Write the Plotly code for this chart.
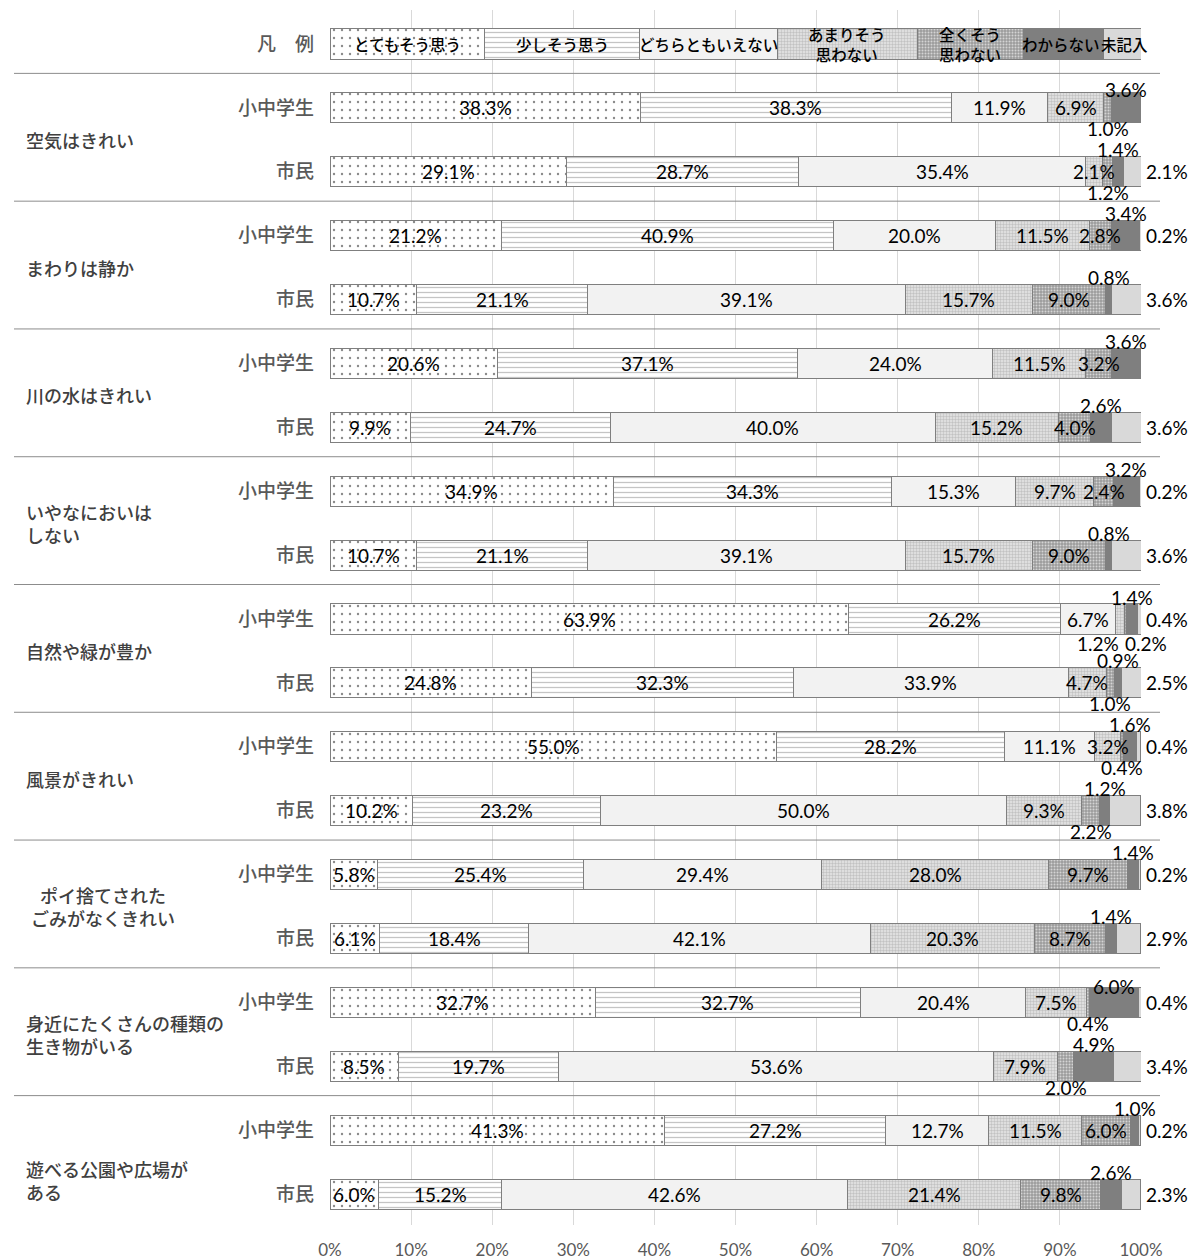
import plotly.graph_objects as go

# ---------------- data ----------------
categories = ["とてもそう思う", "少しそう思う", "どちらともいえない", "あまりそう思わない",
              "全くそう思わない", "わからない", "未記入"]
legend_names = ["とてもそう思う", "少しそう思う", "どちらともいえない", "あまりそう<br>思わない",
                "全くそう<br>思わない", "わからない", "未記入"]
legend_widths = [19.1, 19.1, 17.0, 17.2, 13.1, 9.9, 4.6]

items = ["空気はきれい", "まわりは静か", "川の水はきれい", "いやなにおいは<br>しない",
         "自然や緑が豊か", "風景がきれい", "ポイ捨てされた<br>ごみがなくきれい",
         "身近にたくさんの種類の<br>生き物がいる", "遊べる公園や広場が<br>ある"]
groups = ["小中学生", "市民"]
legend_label = "凡　例"
x_ticks = [0, 10, 20, 30, 40, 50, 60, 70, 80, 90, 100]

# rows: item1 小中学生, item1 市民, item2 小中学生, ...
totemo    = [38.3, 29.1, 21.2, 10.7, 20.6, 9.9, 34.9, 10.7, 63.9, 24.8, 55.0, 10.2, 5.8, 6.1, 32.7, 8.5, 41.3, 6.0]
sukoshi   = [38.3, 28.7, 40.9, 21.1, 37.1, 24.7, 34.3, 21.1, 26.2, 32.3, 28.2, 23.2, 25.4, 18.4, 32.7, 19.7, 27.2, 15.2]
dochira   = [11.9, 35.4, 20.0, 39.1, 24.0, 40.0, 15.3, 39.1, 6.7, 33.9, 11.1, 50.0, 29.4, 42.1, 20.4, 53.6, 12.7, 42.6]
amari     = [6.9, 2.1, 11.5, 15.7, 11.5, 15.2, 9.7, 15.7, 1.2, 4.7, 3.2, 9.3, 28.0, 20.3, 7.5, 7.9, 11.5, 21.4]
mattaku   = [1.0, 1.2, 2.8, 9.0, 3.2, 4.0, 2.4, 9.0, 0.2, 1.0, 0.4, 2.2, 9.7, 8.7, 0.4, 2.0, 6.0, 9.8]
wakaranai = [3.6, 1.4, 3.4, 0.8, 3.6, 2.6, 3.2, 0.8, 1.4, 0.9, 1.6, 1.2, 1.4, 1.4, 6.0, 4.9, 1.0, 2.6]
mikinyu   = [0.0, 2.1, 0.2, 3.6, 0.0, 3.6, 0.2, 3.6, 0.4, 2.5, 0.4, 3.8, 0.2, 2.9, 0.4, 3.4, 0.2, 2.3]

series = [totemo, sukoshi, dochira, amari, mattaku, wakaranai, mikinyu]

# ---------------- styles ----------------
styles = [
    dict(color="#ffffff", pattern=dict(shape=".", fgcolor="#8a8a8a", bgcolor="#ffffff", size=8, solidity=0.07, fillmode="replace")),
    dict(color="#ffffff", pattern=dict(shape="-", fgcolor="#c4c4c4", bgcolor="#ffffff", size=5, solidity=0.25, fillmode="replace")),
    dict(color="#f2f2f2"),
    dict(color="#dcdcdc", pattern=dict(shape=".", fgcolor="#c2c2c2", bgcolor="#e8e8e8", size=3, solidity=0.5, fillmode="replace")),
    dict(color="#a6a6a6", pattern=dict(shape=".", fgcolor="#d4d4d4", bgcolor="#9c9c9c", size=3, solidity=0.35, fillmode="replace")),
    dict(color="#7f7f7f"),
    dict(color="#d9d9d9"),
]

# label placement per row (c=center, a=above, b=below, r=right of bar, -=none)
placement = ["ccccba-", "ccccbar", "cccccar", "cccccar", "cccccar", "cccccar",
             "cccccar", "cccccar", "cccbbar", "ccccbar", "ccccbar", "ccccbar",
             "cccccar", "cccccar", "ccccbar", "ccccbar", "cccccar", "cccccar"]
nudges = {(0, 5): (0, -4), (8, 3): (-22, -3), (8, 4): (20, -3), (14, 5): (0, -6)}
legend_nudges = {5: -3, 6: 2}

NUM_FONT = "Lato, 'Noto Sans CJK JP', sans-serif"
JP_FONT = "'Noto Sans CJK JP', sans-serif"
BAR_W = 0.47

n_rows = len(totemo)
row_y = [i + 1 for i in range(n_rows)]

fig = go.Figure()
for c, name in enumerate(categories):
    st = styles[c]
    marker = dict(color=st["color"], line=dict(color="#7f7f7f", width=1))
    if "pattern" in st:
        marker["pattern"] = st["pattern"]
    fig.add_trace(go.Bar(
        x=[legend_widths[c]] + series[c],
        y=[0] + row_y,
        orientation="h",
        width=BAR_W,
        name=name,
        marker=marker,
        hoverinfo="skip",
        showlegend=False,
    ))

annotations = []
# legend row texts
cum = 0.0
for c, nm in enumerate(legend_names):
    w = legend_widths[c]
    annotations.append(dict(x=cum + w / 2, y=0, xref="x", yref="y", text=nm, showarrow=False,
                            font=dict(family=JP_FONT, size=15.5, color="#000000", weight=500),
                            xanchor="center", yanchor="middle", xshift=legend_nudges.get(c, 0)))
    cum += w

# value labels
for r in range(n_rows):
    cum = 0.0
    for c in range(len(categories)):
        v = series[c][r]
        p = placement[r][c]
        mid = cum + v / 2
        cum += v
        if v <= 0 or p == "-":
            continue
        dx, dy = nudges.get((r, c), (0, 0))
        a = dict(xref="x", yref="y", y=row_y[r], text=f"{v:.1f}%", showarrow=False,
                 font=dict(family=NUM_FONT, size=19, color="#000000"), yanchor="middle")
        if p == "c":
            a.update(x=mid, xanchor="center", yshift=0)
        elif p == "a":
            a.update(x=mid, xanchor="center", yshift=22)
        elif p == "b":
            a.update(x=mid, xanchor="center", yshift=-21)
        elif p == "r":
            a.update(x=100, xanchor="left", xshift=3)
        a["xshift"] = a.get("xshift", 0) + dx
        a["yshift"] = a.get("yshift", 0) + dy
        annotations.append(a)

# item labels on the left
for k, it in enumerate(items):
    ann = dict(xref="paper", yref="y", x=(24 - 330) / 811, y=2 * k + 1.5, text=it, showarrow=False,
               font=dict(family=JP_FONT, size=18, color="#404040", weight=500),
               xanchor="left", yanchor="middle", align="left")
    if k == 6:
        ann.update(align="center", x=(29 - 330) / 811)
    if k == 8:
        ann.update(yshift=-18)
    annotations.append(ann)

# separator lines
shapes = []
for k in range(len(items)):
    shapes.append(dict(type="line", xref="paper", yref="y", x0=(14 - 330) / 811, x1=(1160 - 330) / 811,
                       y0=2 * k + 0.46, y1=2 * k + 0.46, line=dict(color="#8c8c8c", width=1)))

fig.update_layout(
    width=1190, height=1260,
    margin=dict(l=330, r=49, t=10, b=35),
    barmode="stack",
    plot_bgcolor="#ffffff", paper_bgcolor="#ffffff",
    annotations=annotations,
    shapes=shapes,
    xaxis=dict(range=[0, 100], tickvals=x_ticks, ticktext=[f"{t}%" for t in x_ticks],
               showgrid=True, gridcolor="#d9d9d9", gridwidth=1, zeroline=False, showline=False,
               ticks="", tickfont=dict(family=NUM_FONT, size=17, color="#595959"),
               ticklabelstandoff=13, automargin=False, fixedrange=True),
    yaxis=dict(range=[18.485, -0.532], tickvals=[0] + row_y, ticktext=[legend_label] + groups * len(items),
               showgrid=False, zeroline=False, showline=False, ticks="",
               tickfont=dict(family=JP_FONT, size=19, color="#595959", weight=500),
               ticklabelstandoff=15, automargin=False, fixedrange=True),
)

fig.write_html("out.html")
